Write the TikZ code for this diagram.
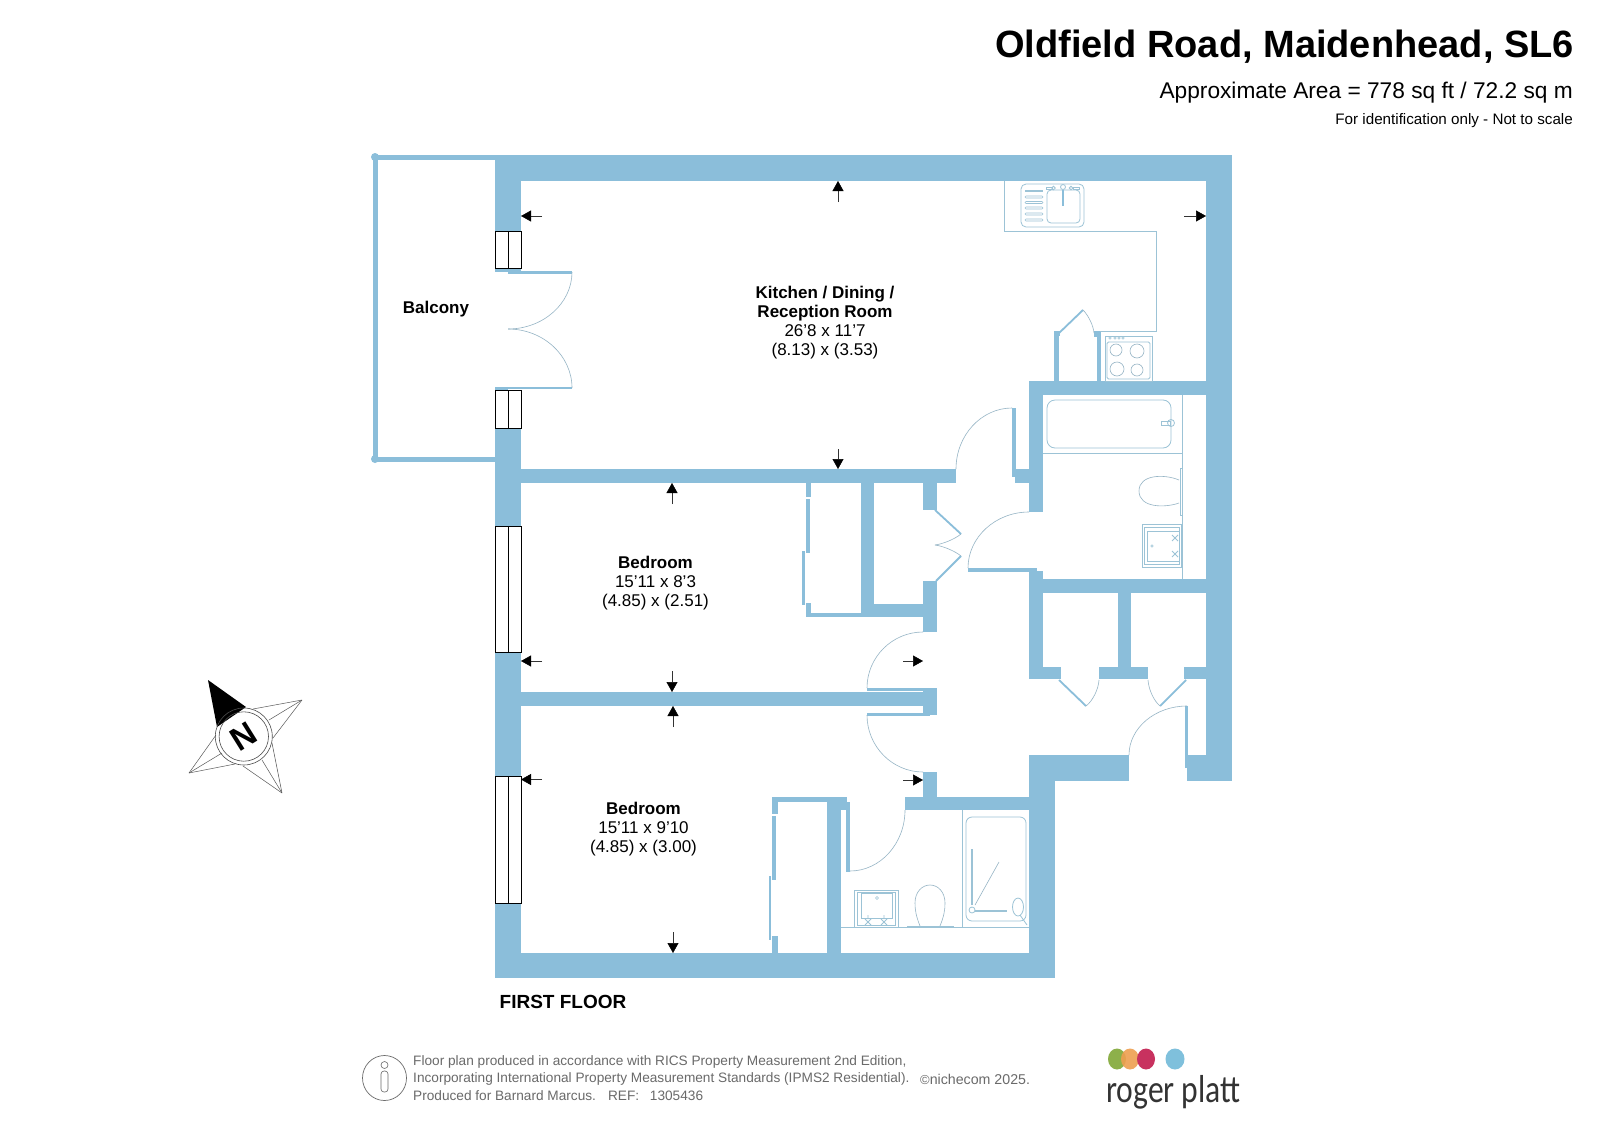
\documentclass[tikz,border=0pt]{standalone}
\usepackage{fontspec}
\setmainfont{Liberation Sans}
\newfontfamily\logofont{Carlito}
\usetikzlibrary{arrows.meta,calc}
\definecolor{wallc}{HTML}{8BBEDA}
\definecolor{linec}{HTML}{9CC3D6}
\definecolor{footc}{HTML}{6A6A6A}
\definecolor{logog}{HTML}{8DB04A}
\definecolor{logoo}{HTML}{EE9F50}
\definecolor{logom}{HTML}{C8325F}
\definecolor{logob}{HTML}{7FC0DC}
\tikzset{
 wall/.style={fill=wallc,draw=none},
 fix/.style={draw=linec,line width=0.8pt,fill=none},
 arcline/.style={draw=linec!80!gray,line width=0.6pt,fill=none},
 win/.style={draw=black,line width=0.9pt,fill=white},
 dimarrow/.style={draw=black!80,line width=0.5pt,-{Triangle[width=11pt,length=10pt,fill=black,color=black]}},
 room/.style={font=\fontsize{17}{19}\selectfont,align=center,text=black,inner sep=0pt},
 foot/.style={font=\fontsize{13.65}{16}\selectfont,text=footc,anchor=west,inner sep=0pt},
 star/.style={draw=black!65,line width=0.5pt,fill=none}
}
\newcommand{\qarc}[3]{\draw[arcline] #1 .. controls ($#1!0.55!#2$) and ($#3!0.55!#2$) .. #3;}
\begin{document}
\begin{tikzpicture}[x=1pt,y=-1pt]
\useasboundingbox (0,0) rectangle (1600,1132);
\fill[white] (0,0) rectangle (1600,1132);
% ---- outer walls
\fill[wall] (495,155) rectangle (1232,181);
\fill[wall] (1206,155) rectangle (1232,781);
\fill[wall] (495,155) rectangle (521,271);
\fill[wall] (495,387) rectangle (508,392);
\fill[wall] (495,268) rectangle (508,272);
\fill[wall] (495,390) rectangle (521,978);
\fill[wall] (495,953) rectangle (1055,978);
\fill[wall] (1029,755) rectangle (1055,978);
\fill[wall] (1029,755) rectangle (1129,781);
\fill[wall] (1187,755) rectangle (1232,781);
% balcony
\fill[wall] (373,155) rectangle (378,462);
\fill[wall] (375,155) rectangle (495,160);
\fill[wall] (375,457) rectangle (495,462);
\fill[wall] (375,157) circle (4);
\fill[wall] (375,459) circle (4);
% door frame double door
\fill[wall] (508,271) rectangle (572,273.5);
\fill[wall] (508,386.5) rectangle (572,389);
% ---- interior walls
\fill[wall] (521,469) rectangle (956,483);
\fill[wall] (1029,381) rectangle (1206,395);
\fill[wall] (1029,381) rectangle (1043,512);
\fill[wall] (1012,408) rectangle (1016,477);
\fill[wall] (1012,469) rectangle (1029,477);
\fill[wall] (1015,469) rectangle (1029,483);
\fill[wall] (968,568) rectangle (1037,572);
\fill[wall] (1029,571) rectangle (1043,679);
\fill[wall] (1029,579) rectangle (1206,593);
\fill[wall] (1118,593) rectangle (1131,679);
\fill[wall] (1029,667) rectangle (1061,679);
\fill[wall] (1099,667) rectangle (1148,679);
\fill[wall] (1184,667) rectangle (1206,679);
% kitchen cupboard
\fill[wall] (1054,331) rectangle (1059,381);
\fill[wall] (1097,331) rectangle (1101,381);
\fill[wall] (1094,331) rectangle (1101,337);
\draw[wallc,line width=1.8pt] (1057,335) -- (1083,310);
\fill[wall] (1054,331) rectangle (1060,336);
% cupboard doors
\draw[wallc,line width=1.8pt] (1059,680) -- (1086,706);
\draw[wallc,line width=1.8pt] (1160,706) -- (1186,680);
\fill[wall] (1185,706) rectangle (1188,768);
% bedroom walls
\fill[wall] (521,692) rectangle (937,706);
\fill[wall] (923,688) rectangle (937,715);
\fill[wall] (867,688) rectangle (930,691);
\fill[wall] (867,713) rectangle (930,716);
\fill[wall] (923,483) rectangle (937,510);
\fill[wall] (923,581) rectangle (937,632);
\fill[wall] (861,483) rectangle (874,617);
\fill[wall] (874,604) rectangle (923,617);
\fill[wall] (806,613) rectangle (861,617);
\fill[wall] (806,483) rectangle (811,497);
\fill[wall] (806,499) rectangle (810,553);
\fill[wall] (802,551) rectangle (805,605);
\fill[wall] (806,603) rectangle (811,617);
\draw[wallc,line width=1.8pt] (935,510) -- (961,534);
\draw[wallc,line width=1.8pt] (936,581) -- (961,556);
% ensuite walls
\fill[wall] (923,772) rectangle (937,797);
\fill[wall] (905,797) rectangle (1029,810);
\fill[wall] (772,797) rectangle (847,802);
\fill[wall] (827,797) rectangle (841,953);
\fill[wall] (841,797) rectangle (847,810);
\fill[wall] (846,802) rectangle (850,872);
\fill[wall] (772,797) rectangle (778,814);
\fill[wall] (772,816) rectangle (776,880);
\fill[wall] (769,876) rectangle (771,940);
\fill[wall] (772,936) rectangle (778,953);
% ---- windows
\foreach \a/\b in {231/268,390/428,526/652,776/903}{
  \draw[win] (495,\a) rectangle (521,\b);
  \draw[draw=black,line width=0.9pt] (508,\a) -- (508,\b);
}
% ---- door swings
\qarc{(572,272)}{(572,329)}{(508,329)}
\qarc{(572,388)}{(572,329)}{(508,329)}
\qarc{(1083,310)}{(1093,320)}{(1094,333)}
\qarc{(1012,408)}{(956,408)}{(956,469)}
\qarc{(1029,512)}{(968,512)}{(968,568)}
\qarc{(961,534)}{(950,543)}{(935,545)}
\qarc{(961,556)}{(950,547)}{(935,545)}
\qarc{(867,688)}{(867,632)}{(923,632)}
\qarc{(867,715)}{(867,772)}{(923,772)}
\qarc{(1086,706)}{(1098,697)}{(1099,680)}
\qarc{(1148,680)}{(1149,697)}{(1160,706)}
\qarc{(1187,706)}{(1129,706)}{(1129,755)}
\qarc{(850,871)}{(905,871)}{(905,810)}
% ---- kitchen fittings
\draw[fix] (1004,181) -- (1004,231) -- (1156,231) -- (1156,331) -- (1100,331);
\draw[fix,rounded corners=5pt] (1021,184) rectangle (1084,227);
\draw[fix,rounded corners=4pt] (1047,190) rectangle (1080,223);
\draw[fix,line width=1.1pt] (1025,191) -- (1043,191);
\foreach \y in {197,202.5,208,214,220}{\draw[fix,line width=0.6pt,rounded corners=1pt] (1025,\y-1) rectangle (1043,\y+1);}
\draw[fix] (1063,187) circle (2.5);
\draw[wallc,line width=1.4pt] (1063,190) -- (1063,206);
\draw[fix] (1046,187) rectangle (1052,189.5); \draw[fix] (1053.5,188) circle (1.8);
\draw[fix] (1071,188) circle (1.8); \draw[fix] (1073,187) rectangle (1079,189.5);
\draw[fix] (1105,336) rectangle (1152,381);
\draw[fix,rounded corners=1.5pt] (1107,342) rectangle (1150,379);
\draw[arcline] (1116,350) circle (6);
\draw[arcline] (1137,351) circle (7);
\draw[arcline] (1117,369) circle (7);
\draw[arcline] (1137,370) circle (6);
\foreach \x in {1110,1115,1119,1123}{\draw[fix,line width=0.6pt] (\x,338) circle (1.2);}
% ---- bathroom fittings
\draw[fix,rounded corners=8pt] (1047,400) rectangle (1171,448);
\draw[fix] (1043,453) -- (1182,453);
\draw[fix,line width=0.6pt] (1182,395) -- (1182,579);
\draw[fix] (1161,421) rectangle (1170,425);
\draw[fix] (1171,423) circle (3.5);
\draw[arcline] (1179,480) .. controls (1165,474) and (1139,474) .. (1139,491) .. controls (1139,508) and (1165,508) .. (1179,503);
\draw[fix] (1180,468) rectangle (1182,515);
\draw[fix] (1142,524) rectangle (1181,567);
\draw[fix] (1144,527) rectangle (1179,564);
\draw[fix] (1147,531) rectangle (1179,561);
\draw[fix] (1172,535) -- (1178,541) (1178,535) -- (1172,541);
\draw[fix] (1172,551) -- (1178,557) (1178,551) -- (1172,557);
\draw[fix,line width=0.5pt] (1152,546) circle (1.2);
% ---- ensuite fittings
\draw[fix] (841,927) -- (1029,927);
\draw[fix] (962,810) -- (962,927);
\draw[fix,rounded corners=6pt] (966,817) rectangle (1026,921);
\draw[fix,line width=1.2pt] (972,849) -- (972,905);
\draw[fix] (972,910) circle (3);
\draw[arcline] (975,905) -- (999,862);
\draw[fix,line width=1.1pt] (975,911) -- (1007,911);
\draw[fix] (1018,907) ellipse (5.5 and 9);
\draw[fix] (1020,915) -- (1027,925);
\draw[fix] (854,890) rectangle (898,927);
\draw[fix] (857,892) rectangle (895,925);
\draw[fix] (861,893) rectangle (892,918);
\draw[fix,line width=0.6pt] (877,898) circle (1.5);
\foreach \x in {868,884}{
  \draw[fix] (\x,915) -- (\x,919) (\x-3,919) -- (\x+3,925) (\x+3,919) -- (\x-3,925);
}
\draw[arcline] (920,926) .. controls (916,916) and (915,910) .. (915,903) .. controls (915,892) and (922,885) .. (930,885) .. controls (938,885) and (945,892) .. (945,903) .. controls (945,910) and (944,916) .. (940,926);
\draw[fix] (907,926.5) -- (954,926.5);
% ---- dimension arrows
\coordinate (a1s) at (838,202); \coordinate (a1e) at (838,181);
\coordinate (a2s) at (542,216); \coordinate (a2e) at (521,216);
\coordinate (a3s) at (838,449); \coordinate (a3e) at (838,469);
\coordinate (a4s) at (1184,216); \coordinate (a4e) at (1206,216);
\coordinate (a5s) at (672,504); \coordinate (a5e) at (672,483);
\coordinate (a6s) at (542,661); \coordinate (a6e) at (521,661);
\coordinate (a7s) at (672,671); \coordinate (a7e) at (672,692);
\coordinate (a8s) at (673,727); \coordinate (a8e) at (673,706);
\coordinate (a9s) at (542,779.5); \coordinate (a9e) at (521,779.5);
\coordinate (a10s) at (673,932); \coordinate (a10e) at (673,953);
\coordinate (a11s) at (903,661); \coordinate (a11e) at (923,661);
\coordinate (a12s) at (903,780); \coordinate (a12e) at (923,780);
\foreach \i in {1,...,12}{\draw[dimarrow] (a\i s) -- (a\i e);}
% ---- room labels
\node[room] (balcony) at (436,309) {\textbf{Balcony}};
\node[room] (kitchen) at (825,322.5) {\textbf{Kitchen / Dining /}\\\textbf{Reception Room}\\26'8 x 11'7\\(8.13) x (3.53)};
\node[room] (bedrooma) at (655.5,583) {\textbf{Bedroom}\\15'11 x 8'3\\(4.85) x (2.51)};
\node[room] (bedroomb) at (643.5,829) {\textbf{Bedroom}\\15'11 x 9'10\\(4.85) x (3.00)};
\node[anchor=west,inner sep=0pt,font=\fontsize{19}{21}\selectfont\bfseries] (floor) at (499.5,1002) {FIRST FLOOR};
% ---- heading
\node[anchor=east,inner sep=0pt,font=\fontsize{38}{40}\selectfont\bfseries] (title) at (1574,47) {Oldfield Road, Maidenhead, SL6};
\node[anchor=east,inner sep=0pt,font=\fontsize{22.7}{25}\selectfont] (area) at (1573,92.5) {Approximate Area = 778 sq ft / 72.2 sq m};
\node[anchor=east,inner sep=0pt,font=\fontsize{15.2}{17}\selectfont] (ident) at (1573,121) {For identification only - Not to scale};
% ---- compass
\fill[white] (243.8,736.5) circle (28.5);
\fill[black] (208,680) -- (246,707) -- (217,727) -- cycle;
\draw[star] (302,700) -- (253,709) (302,700) -- (273,738);
\draw[star] (302,700) -- (269,720);
\draw[star] (282,793) -- (272,743) (282,793) -- (243,766);
\draw[star] (282,793) -- (262,760);
\draw[star] (189,773) -- (216,735) (189,773) -- (235,764);
\draw[star] (189,773) -- (222,753);
\draw[draw=black!70,line width=0.6pt] (243.8,736.5) circle (28.5);
\draw[draw=black!70,line width=0.6pt] (243.8,736.5) circle (24.7);
\node[rotate=32,inner sep=0pt,font=\fontsize{33}{34}\selectfont\bfseries] (north) at (243.8,736.5) {N};
% ---- footer
\draw[draw=footc,line width=0.7pt] (384.5,1078) ellipse (22 and 22.5);
\draw[draw=footc,line width=0.6pt] (384.5,1065) circle (3.5);
\draw[draw=footc,line width=0.6pt,rounded corners=3pt] (381,1071) rectangle (388,1092);
\node[foot] (f1) at (413,1062) {Floor plan produced in accordance with RICS Property Measurement 2nd Edition,};
\node[foot] (f2) at (413,1079) {Incorporating International Property Measurement Standards (IPMS2 Residential).};
\node[foot] (f3) at (413,1096) {Produced for Barnard Marcus.\hspace{7pt} REF:\hspace{7pt} 1305436};
\node[foot] (f4) at (920,1079) {\fontsize{13}{15}\selectfont ©\fontsize{14.2}{16}\selectfont nichecom 2025.};
% ---- logo
\fill[logog] (1117,1059) ellipse (9 and 10.5);
\fill[logoo,fill opacity=0.9] (1130,1059) ellipse (9 and 10.5);
\fill[logom] (1146,1059) ellipse (9 and 10.5);
\fill[logob] (1175,1059) ellipse (9.5 and 10.5);
\node[anchor=west,inner sep=0pt,text=black!80,font=\logofont\fontsize{39}{40}\selectfont] (logo) at (1106,1092) {\scalebox{0.81}[1]{roger platt}};
\end{tikzpicture}
\end{document}
